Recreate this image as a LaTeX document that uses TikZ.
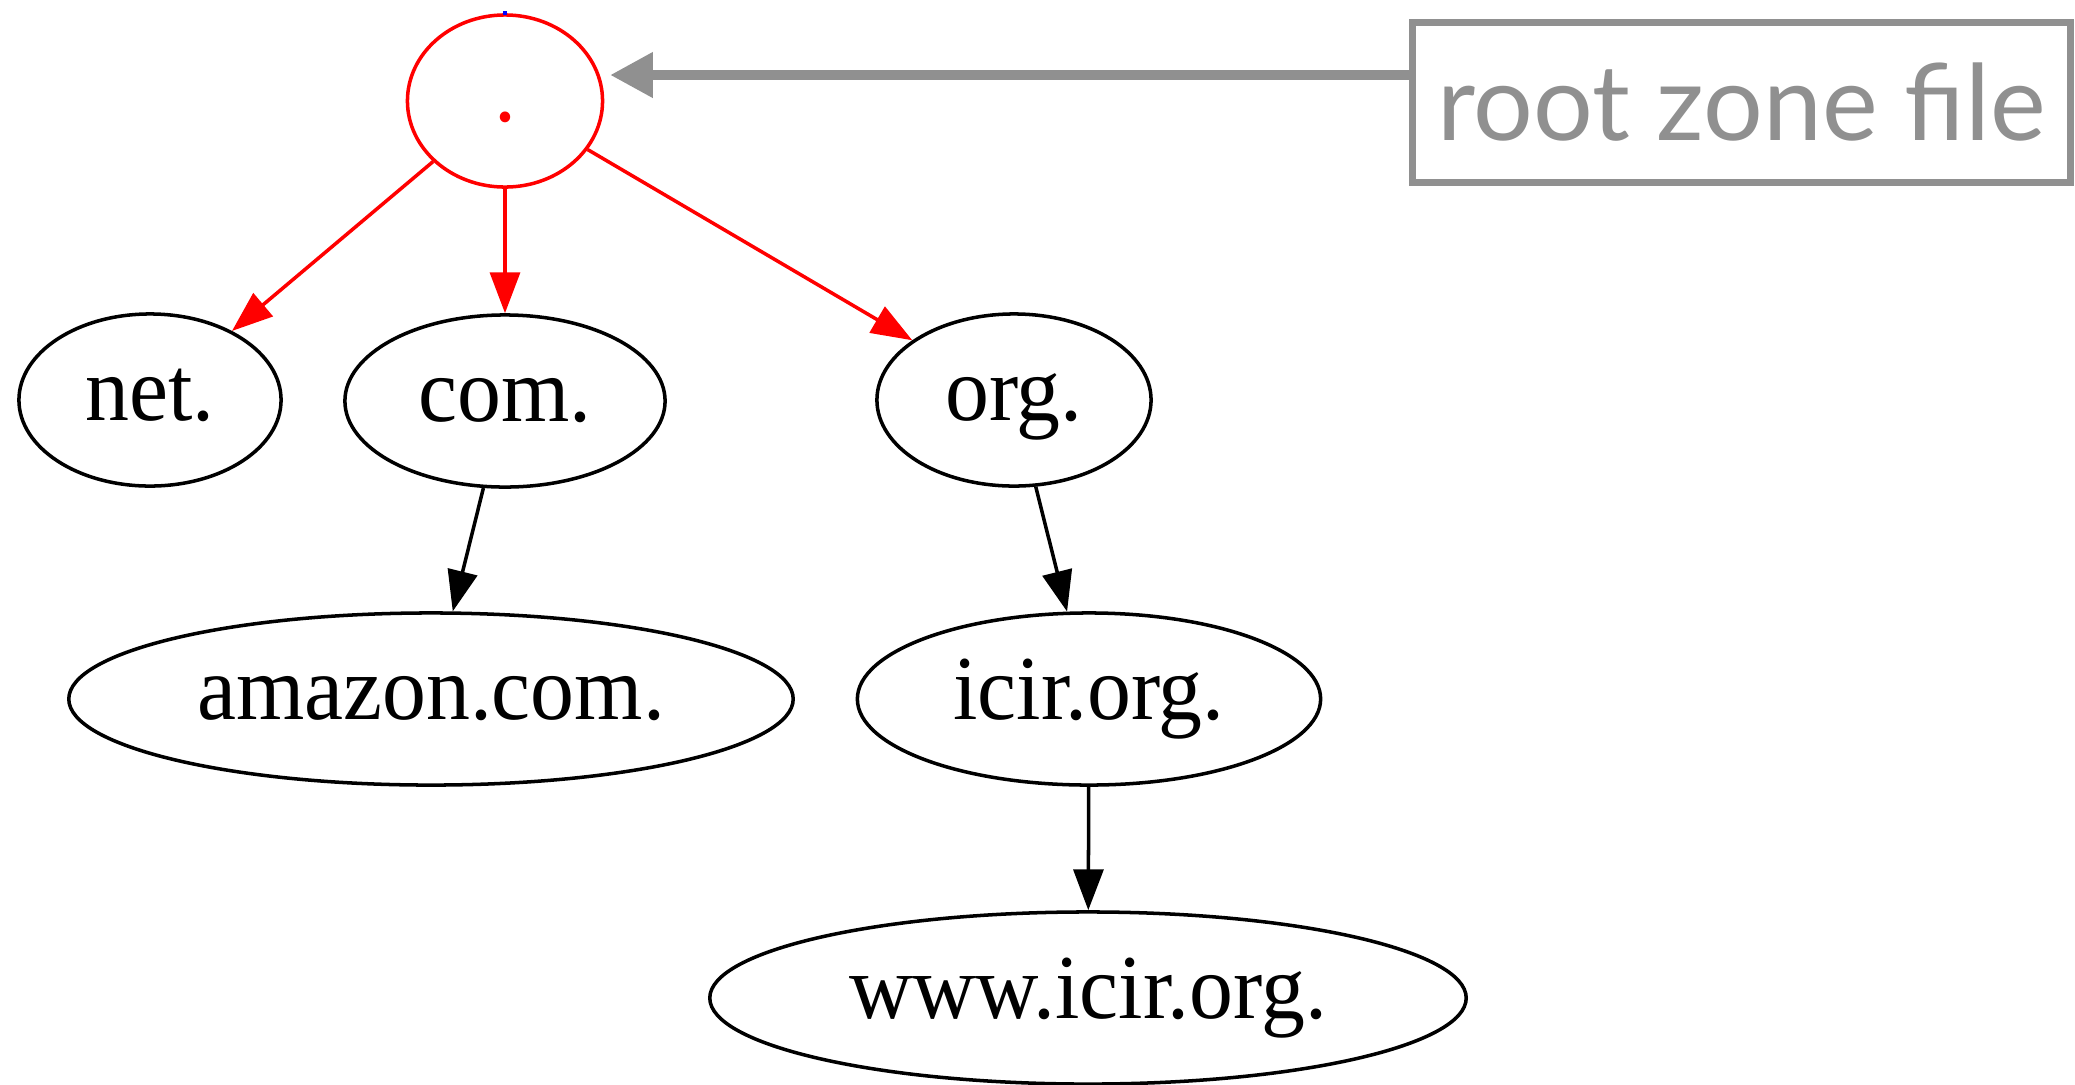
\documentclass[tikz,border=0pt]{standalone}
\usepackage{fontspec}
\setmainfont{Liberation Serif}
\newfontfamily\treefont[FakeStretch=0.96]{Liberation Serif}
\newfontfamily\calloutfont{Lato}
\usetikzlibrary{shapes.geometric,arrows.meta}
\definecolor{zonegray}{HTML}{909090}
\definecolor{zonered}{HTML}{FF0000}

\tikzset{
  dnsnode/.style={ellipse, draw, line width=1pt, inner sep=0pt,
    font=\treefont\fontsize{26}{30}\selectfont, text height=1.15em, text depth=0em,
    minimum height=1.72cm},
  rootnode/.style={dnsnode, draw=zonered, text=zonered},
  edge/.style={line width=1pt, -{Triangle[length=11.6pt,width=8.5pt]}},
  rootedge/.style={edge, draw=zonered, fill=zonered},
  zonebox/.style={draw=zonegray, line width=2pt, text=zonegray, inner sep=0pt,
    minimum width=6.58cm, minimum height=1.6cm,
    font=\calloutfont\fontsize{30}{36}\selectfont},
  zonearrow/.style={draw=zonegray, line width=3pt,
    -{Triangle[length=12.2pt,width=12.2pt]}, color=zonegray},
}

\begin{document}
\begin{tikzpicture}[x=0.01cm, y=-0.01cm]
  \useasboundingbox (0,0) rectangle (2075,1084);

  % DNS tree
  \node[rootnode, minimum width=1.95cm] (root) at (505,101) {.};
  \node[dnsnode, minimum width=2.62cm] (net) at (150,400) {net.};
  \node[dnsnode, minimum width=3.20cm] (com) at (505,401) {com.};
  \node[dnsnode, minimum width=2.74cm] (org) at (1014,400) {org.};
  \node[dnsnode, minimum width=7.24cm] (amazon) at (431,699) {amazon.com.};
  \node[dnsnode, minimum width=4.63cm] (icir) at (1089,699) {icir.org.};
  \node[dnsnode, minimum width=7.56cm] (www) at (1088,998) {www.icir.org.};

  % small blue mark on top of the root
  \draw[blue, line width=1.2pt] ([yshift=-0.02cm]root.north) -- ([yshift=0.02cm]root.north);

  % delegations
  \draw[rootedge] (root) -- (net);
  \draw[rootedge] (root) -- (com);
  \draw[rootedge] (root) -- (org);
  \draw[edge] (com) -- (amazon);
  \draw[edge] (org) -- (icir);
  \draw[edge] (icir) -- (www);

  % callout
  \node[zonebox] (zone) at (1741.5,102.5) {root zone file};
  \coordinate (tipend) at (610,75);
  \draw[zonearrow] (zone.west |- tipend) -- (tipend);
\end{tikzpicture}
\end{document}
